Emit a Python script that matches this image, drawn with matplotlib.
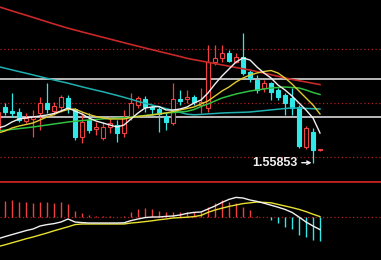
import matplotlib
matplotlib.use("Agg")
import matplotlib.pyplot as plt
import numpy as np

# ---------------- data ----------------
candle_idx = list(range(-1, 46))
opens = [1.5618, 1.5641, 1.5637, 1.5636, 1.5627, 1.5629, 1.5635, 1.5645, 1.5637, 1.5641,
         1.5650, 1.5639, 1.5611, 1.5628, 1.5619, 1.5610, 1.5621, 1.5623, 1.5615, 1.5631,
         1.5643, 1.5649, 1.5641, 1.5639, 1.5631, 1.5625, 1.5649, 1.5649, 1.5651, 1.5643,
         1.5640, 1.5686, 1.5690, 1.5695, 1.5686, 1.5691, 1.5676, 1.5668, 1.5660, 1.5665,
         1.5658, 1.5653, 1.5650, 1.5641, 1.5601, 1.5616, 1.5598]
highs = [1.5643, 1.5645, 1.5655, 1.5640, 1.5635, 1.5638, 1.5651, 1.5665, 1.5646, 1.5653,
         1.5653, 1.5640, 1.5635, 1.5635, 1.5626, 1.5626, 1.5631, 1.5628, 1.5638, 1.5655,
         1.5652, 1.5652, 1.5643, 1.5641, 1.5636, 1.5665, 1.5658, 1.5658, 1.5653, 1.5660,
         1.5703, 1.5703, 1.5703, 1.5698, 1.5695, 1.5715, 1.5678, 1.5673, 1.5668, 1.5666,
         1.5660, 1.5655, 1.5660, 1.5643, 1.5622, 1.5620, 1.5599]
lows = [1.5613, 1.5633, 1.5631, 1.5626, 1.5625, 1.5611, 1.5618, 1.5635, 1.5633, 1.5636,
        1.5635, 1.5608, 1.5605, 1.5615, 1.5613, 1.5608, 1.5615, 1.5606, 1.5611, 1.5628,
        1.5640, 1.5636, 1.5633, 1.5616, 1.5618, 1.5623, 1.5643, 1.5645, 1.5643, 1.5635,
        1.5636, 1.5683, 1.5686, 1.5686, 1.5685, 1.5673, 1.5666, 1.5655, 1.5656, 1.5648,
        1.5648, 1.5633, 1.5633, 1.5600, 1.5599, 1.55853, 1.5597]
closes = [1.5636, 1.5636, 1.5635, 1.5628, 1.5630, 1.5631, 1.5645, 1.5639, 1.5642, 1.5651,
          1.5640, 1.5611, 1.5626, 1.5618, 1.5621, 1.5621, 1.5625, 1.5615, 1.5631, 1.5645,
          1.5650, 1.5641, 1.5639, 1.5634, 1.5626, 1.5649, 1.5647, 1.5651, 1.5646, 1.5646,
          1.5686, 1.5690, 1.5695, 1.5687, 1.5691, 1.5675, 1.5670, 1.5658, 1.5665, 1.5656,
          1.5651, 1.5645, 1.5640, 1.5602, 1.5620, 1.5598, 1.5599]

ma_white = [1.5620, 1.5622, 1.5626, 1.5629, 1.5630, 1.5631, 1.5632, 1.5633, 1.56345, 1.5637,
            1.5640, 1.5637, 1.5634, 1.5630, 1.5627, 1.5625, 1.5623, 1.5621, 1.5623, 1.5629,
            1.5635, 1.5640, 1.5641, 1.56415, 1.5638, 1.5638, 1.5639, 1.5641, 1.5645, 1.5648,
            1.5655, 1.5664, 1.5672, 1.5679, 1.5686, 1.5690, 1.5688, 1.5681, 1.5675, 1.5670,
            1.5663, 1.5658, 1.5652, 1.5645, 1.5638, 1.5630, 1.5615]
ma_yellow = [1.5615, 1.5617, 1.5620, 1.5622, 1.56235, 1.5625, 1.5628, 1.5631, 1.56335, 1.56365,
             1.56385, 1.5639, 1.5636, 1.56335, 1.56315, 1.5630, 1.5629, 1.5629, 1.5629, 1.56305,
             1.56315, 1.56323, 1.5633, 1.5634, 1.5635, 1.56365, 1.5638, 1.56395, 1.5641, 1.5644,
             1.5647, 1.5652, 1.5657, 1.5661, 1.5666, 1.5670, 1.5673, 1.5675, 1.56765, 1.56775,
             1.5675, 1.5670, 1.5664, 1.5657, 1.5650, 1.5643, 1.5634]
ma_green = [1.5617, 1.56178, 1.56186, 1.56194, 1.56202, 1.5621, 1.5622, 1.5623, 1.5624, 1.5625,
            1.5626, 1.56267, 1.56274, 1.5628, 1.56286, 1.56291, 1.56295, 1.56299, 1.56303, 1.56308,
            1.56316, 1.56325, 1.56333, 1.56341, 1.5635, 1.56355, 1.5636, 1.56367, 1.56385, 1.56415,
            1.5644, 1.5647, 1.5650, 1.5652, 1.5654, 1.56555, 1.5657, 1.5658, 1.5659, 1.5660,
            1.56605, 1.5661, 1.56605, 1.5660, 1.5658, 1.56555, 1.56535]
ma_teal = [1.56815, 1.56798, 1.56781, 1.56764, 1.56748, 1.56731, 1.56714, 1.56697, 1.56680, 1.56664,
           1.56648, 1.56630, 1.56612, 1.56595, 1.56578, 1.56562, 1.56544, 1.56526, 1.56507, 1.56487,
           1.56466, 1.56447, 1.56430, 1.56412, 1.56394, 1.56375, 1.56357, 1.56338, 1.56332, 1.56336,
           1.56341, 1.56345, 1.56350, 1.56353, 1.56355, 1.56357, 1.56360, 1.56367, 1.56374, 1.56381,
           1.56388, 1.56395, 1.56400, 1.56399, 1.56396, 1.56393, 1.56390]
ma_red = [1.57415, 1.57393, 1.57371, 1.57349, 1.57328, 1.57306, 1.57284, 1.57262, 1.57240, 1.57219,
          1.57198, 1.57180, 1.57161, 1.57143, 1.57125, 1.57107, 1.57089, 1.57071, 1.57053, 1.57035,
          1.57018, 1.57000, 1.56983, 1.56966, 1.56949, 1.56932, 1.56915, 1.56897, 1.56883, 1.56870,
          1.56857, 1.56844, 1.56831, 1.56818, 1.56805, 1.56792, 1.56780, 1.56764, 1.56748, 1.56733,
          1.56717, 1.56701, 1.56686, 1.56673, 1.56660, 1.56647, 1.56634]

level_solid = [1.5669, 1.5631]
level_dotted = [1.5699, 1.5645, 1.5591]
low_label = "1.55853"
low_value = 1.55853
low_index = 44

macd_hist = [0.00082, 0.00085, 0.00077, 0.00077, 0.00072, 0.00077, 0.00077, 0.00072, 0.00077, 0.00065,
             0.00032, 0.0002, 0.0001, 0.00005, 0.00003, 0.00003, 0.00002, 0.00003, 0.00025, 0.0004,
             0.00043, 0.0004, 0.0003, 0.00023, 0.00023, 0.00023, 0.00026, 0.00026, 0.00025, 0.0005,
             0.0007, 0.00085, 0.00075, 0.0007, 0.0005, 0.00035, 0.00005, -0.00002, -0.00015, -0.0003,
             -0.0005, -0.0006, -0.0009, -0.001, -0.00115, -0.0012]
hist_idx = list(range(0, 46))
macd_dif = [-0.00109, -0.00098, -0.00088, -0.00078, -0.00068, -0.0006, -0.00045, -0.00038, -0.00033, -0.00025,
            -0.0001, -0.00025, -0.00028, -0.0003, -0.0003, -0.0003, -0.0003, -0.0003, -0.00029, -0.00018,
            -0.0001, -0.00003, 0.0, 0.0, 0.00003, 0.00005, 0.0001, 0.00018, 0.00023, 0.00025,
            0.0004, 0.00055, 0.00073, 0.00088, 0.00098, 0.00095, 0.00085, 0.00078, 0.00069, 0.00059,
            0.00049, 0.00038, 0.00023, 0.0, -0.00025, -0.00045, -0.00063]
macd_dea = [-0.00148, -0.00139, -0.00129, -0.00119, -0.00109, -0.001, -0.0009, -0.0008, -0.00069, -0.00059,
            -0.00049, -0.00038, -0.00035, -0.00035, -0.00035, -0.00035, -0.00035, -0.00035, -0.00035, -0.0003,
            -0.00027, -0.00023, -0.00019, -0.00014, -0.0001, -0.00005, -0.00003, -0.00001, 0.00002, 0.00008,
            0.00023, 0.00035, 0.00044, 0.00053, 0.0006, 0.00067, 0.00071, 0.00075, 0.00073, 0.00071,
            0.00063, 0.00055, 0.00047, 0.00038, 0.00027, 0.00014, 0.00002]

# ---------------- styling ----------------
BG = "black"
UP = "#f04040"
DOWN = "#30e8e8"
XLIM = (-5 / 7, 376 / 7)

fig = plt.figure(figsize=(3.81, 2.60), dpi=100, facecolor=BG)
ax = fig.add_axes([0, 79 / 260, 1, 181 / 260], facecolor=BG)
ax2 = fig.add_axes([0, 0, 1, 79 / 260], facecolor=BG)
for a in (ax, ax2):
    a.set_xlim(*XLIM)
    a.set_xticks([])
    a.set_yticks([])
    for s in a.spines.values():
        s.set_visible(False)

ax.set_ylim(1.5567, 1.5748)
ax2.set_ylim(-0.00215, 0.0018)

# levels
for lv in level_solid:
    ax.axhline(lv, color="#c8c8c8", lw=1.3, zorder=1)
for lv in level_dotted:
    ax.axhline(lv, color="#b01c1c", lw=0.9, ls=(0, (1, 2)), zorder=1)

# candles
x = np.array(candle_idx)
o = np.array(opens); h = np.array(highs); l = np.array(lows); c = np.array(closes)
up = c >= o
cols = np.where(up, UP, DOWN)
ax.vlines(x, l, h, colors=cols, lw=0.9, zorder=2)
body = np.maximum(np.abs(c - o), 0.00008)
bottom = np.minimum(o, c)
ax.bar(x, body, bottom=bottom, width=0.68,
       facecolor=np.where(up, BG, DOWN), edgecolor=cols, lw=0.8, zorder=3)

# moving averages
ax.plot(x, ma_red, color="#c82828", lw=1.2, zorder=4)
ax.plot(x, ma_teal, color="#1fb0b0", lw=1.1, zorder=4)
ax.plot(x, ma_green, color="#30c040", lw=1.1, zorder=4)
ax.plot(x, ma_yellow, color="#e0cc30", lw=1.0, zorder=4)
ax.plot(x, ma_white, color="#f0f0f0", lw=1.0, zorder=5)

# low annotation
ax.annotate(low_label, xy=(low_index - 0.2, low_value), xytext=(41.8, low_value),
            color="#f0f0f0", fontsize=9, fontweight="bold", family="Liberation Sans",
            ha="right", va="center",
            arrowprops=dict(arrowstyle="->", color="#f0f0f0", lw=1.0,
                            shrinkA=1, shrinkB=0, mutation_scale=6),
            zorder=6)

# separator
ax2.axhline(ax2.get_ylim()[1], color="#c02020", lw=2.0, zorder=5)

# MACD
ax2.axhline(0, color="#b01c1c", lw=0.9, ls=(0, (1, 2)), zorder=1)
hx = np.array(hist_idx); hv = np.array(macd_hist)
ax2.vlines(hx, 0, hv, colors=np.where(hv >= 0, UP, DOWN), lw=1.0, zorder=2)
ax2.plot(x, macd_dea, color="#e8e030", lw=1.0, zorder=3)
ax2.plot(x, macd_dif, color="#f0f0f0", lw=1.0, zorder=4)

fig.savefig("out.png", dpi=100, facecolor=BG)
